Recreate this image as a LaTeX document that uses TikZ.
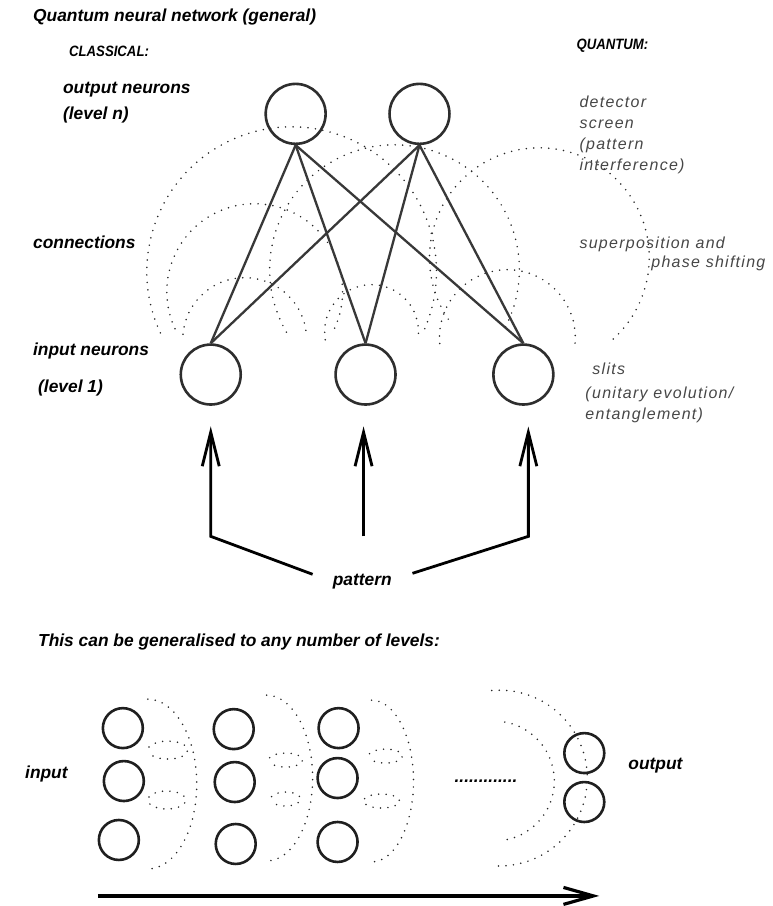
\documentclass[tikz,border=0pt]{standalone}
\usepackage{fontspec}
\setmainfont{Liberation Sans}
\newfontfamily\condsans{Liberation Sans}[FakeStretch=0.88]
\newfontfamily\widesans{Liberation Sans}[LetterSpace=8]
\usetikzlibrary{arrows.meta}

\begin{document}
\begin{tikzpicture}[x=1pt, y=1pt, yscale=-1,
  lbl/.style={anchor=west, inner sep=0pt, font=\fontsize{17.4}{20}\selectfont\bfseries\itshape},
  headlbl/.style={anchor=west, inner sep=0pt, font=\condsans\fontsize{15}{17}\selectfont\bfseries\itshape},
  qlbl/.style={anchor=west, inner sep=0pt, text=black!72, font=\widesans\fontsize{16}{19}\selectfont\itshape},
  neuron/.style={circle, draw=black!82, line width=2.6pt, minimum size=60pt, inner sep=0pt},
  cell/.style={circle, draw=black!88, line width=2.6pt, minimum size=40pt, inner sep=0pt},
  link/.style={draw=black!78, line width=2.3pt},
  wave/.style={draw=black!85, line width=1.7pt, line cap=round, dash pattern=on 0pt off 7.5pt},
  flow/.style={draw=black, line width=2.8pt, -{Straight Barb[length=34pt, width=17pt]}},
  flowlong/.style={draw=black, line width=3.2pt, -{Straight Barb[length=30pt, width=17pt]}}
]
% canvas
\fill[white] (0,0) rectangle (773,906);

% ---------- headings ----------
\node[lbl] (title) at (33,17) {Quantum neural network (general)};
\node[headlbl] (classical) at (69,51) {CLASSICAL:};
\node[headlbl] (quantum) at (577,46) {QUANTUM:};

% ---------- classical labels ----------
\node[lbl] (outlbl) at (63,90) {output neurons};
\node[lbl] (outlvl) at (63,115) {(level n)};
\node[lbl] (conlbl) at (33,243) {connections};
\node[lbl] (inlbl) at (33,351) {input neurons};
\node[lbl] (inlvl) at (38,388) {(level 1)};

% ---------- quantum labels ----------
\node[qlbl] (q1) at (580,102) {detector};
\node[qlbl] (q2) at (580,124) {screen};
\node[qlbl] (q3) at (580,146) {(pattern};
\node[qlbl] (q4) at (580,167) {interference)};
\node[qlbl] (q5) at (580,245) {superposition and};
\node[qlbl] (q6) at (652,264) {phase shifting};
\node[qlbl] (q7) at (593,369) {slits};
\node[qlbl] (q8) at (586,395) {(unitary evolution/};
\node[qlbl] (q9) at (586,416) {entanglement)};

% ---------- wavefronts spreading from the slits ----------
\draw[wave] (292,272) ++(155:145) arc[start angle=155, end angle=385, radius=145];
\draw[wave] (255,292) ++(155:88) arc[start angle=155, end angle=385, radius=88];
\draw[wave] (245,340) ++(185:62) arc[start angle=185, end angle=355, radius=62];
\draw[wave] (372,332) ++(170:47) arc[start angle=170, end angle=370, radius=47];
\draw[wave] (395,270) ++(150:125) arc[start angle=150, end angle=390, radius=125];
\draw[wave] (540,258) ++(146:110) arc[start angle=146, end angle=408, radius=110];
\draw[wave] (508,338) ++(175:68) arc[start angle=175, end angle=365, radius=68];

% ---------- neurons ----------
\node[neuron] (o1) at (296,114) {};
\node[neuron] (o2) at (420,114) {};
\node[neuron] (i1) at (211,375) {};
\node[neuron] (i2) at (366,375) {};
\node[neuron] (i3) at (524,375) {};

% ---------- connections ----------
\foreach \o in {o1,o2}
  \foreach \i in {i1,i2,i3}
    \draw[link] (\o.south) -- (\i.north);

% ---------- pattern arrows ----------
\node[lbl] (pat) at (333,582) {pattern};
\coordinate (pL) at (313,575);
\coordinate (kL) at (211,537);
\coordinate (tL) at (211,427);
\coordinate (kM) at (364,537);
\coordinate (tM) at (364,427);
\coordinate (pR) at (413,574);
\coordinate (kR) at (529,537);
\coordinate (tR) at (529,427);
\draw[flow] (pL) -- (kL) -- (tL);
\draw[flow] (kM) -- (tM);
\draw[flow] (pR) -- (kR) -- (tR);

% ---------- multi-level network ----------
\node[lbl] (gen) at (38,643) {This can be generalised to any number of levels:};
\node[lbl] (inp) at (25,775) {input};
\node[lbl] (outp) at (629,767) {output};

% wavefronts between the layers
\draw[wave] (148,785) ++(-90:49 and 85) arc[start angle=-90, end angle=90, x radius=49, y radius=85];
\draw[wave] (168,751) ++(200:20 and 9) arc[start angle=200, end angle=520, x radius=20, y radius=9];
\draw[wave] (167,801) ++(200:19 and 9) arc[start angle=200, end angle=520, x radius=19, y radius=9];

\draw[wave] (267,779) ++(-90:46 and 83) arc[start angle=-90, end angle=90, x radius=46, y radius=83];
\draw[wave] (286,761) ++(200:17 and 7) arc[start angle=200, end angle=520, x radius=17, y radius=7];
\draw[wave] (286,800) ++(200:15 and 7) arc[start angle=200, end angle=520, x radius=15, y radius=7];

\draw[wave] (372,782) ++(-90:42 and 81) arc[start angle=-90, end angle=90, x radius=42, y radius=81];
\draw[wave] (386,757) ++(200:17 and 7) arc[start angle=200, end angle=520, x radius=17, y radius=7];
\draw[wave] (382,802) ++(200:18 and 7) arc[start angle=200, end angle=520, x radius=18, y radius=7];

\draw[wave] (500,779) ++(-95:88) arc[start angle=-95, end angle=95, radius=88];
\draw[wave] (495,782) ++(-80:60) arc[start angle=-80, end angle=80, radius=60];

% layers
\node[cell] (c11) at (123,729) {};
\node[cell] (c12) at (124,782) {};
\node[cell] (c13) at (119,841) {};
\node[cell] (c21) at (234,730) {};
\node[cell] (c22) at (235,783) {};
\node[cell] (c23) at (236,845) {};
\node[cell] (c31) at (339,729) {};
\node[cell] (c32) at (338,779) {};
\node[cell] (c33) at (338,843) {};
\node[cell] (e1) at (585,754) {};
\node[cell] (e2) at (585,803) {};

\node[lbl] (dots) at (455,782) {.............};

% direction of propagation
\coordinate (b0) at (98,897);
\coordinate (b1) at (600,897);
\draw[flowlong] (b0) -- (b1);
\end{tikzpicture}
\end{document}
